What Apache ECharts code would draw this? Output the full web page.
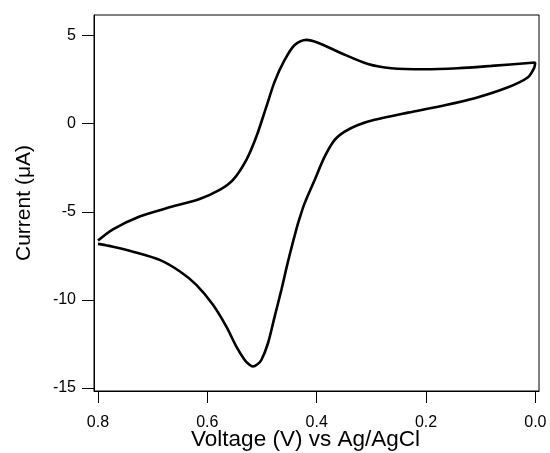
<!DOCTYPE html>
<html>
<head>
<meta charset="utf-8">
<script src="https://cdn.jsdelivr.net/npm/echarts@6/dist/echarts.min.js"></script>
<style>
html,body{margin:0;padding:0;background:#fff;}
#chart{width:550px;height:453px;}
</style>
</head>
<body>
<div id="chart"></div>
<script>
// Potential (V vs Ag/AgCl), ordered along the closed CV loop
var voltage = [
  0.800, 0.7726, 0.7360, 0.6872, 0.6500, 0.6201, 0.5897, 0.5652, 0.5469, 0.5317,
  0.5235, 0.5166, 0.5089, 0.5012, 0.4891, 0.4769, 0.4646, 0.4525, 0.4375, 0.4311,
  0.4225, 0.4037, 0.3854, 0.3671, 0.3488, 0.3245, 0.2940, 0.2330, 0.1719, 0.1110,
  0.0501, 0.0135, 0.0022,
  0.0004, 0.0805, 0.1416, 0.2025, 0.2634, 0.3062, 0.3549, 0.3977, 0.4189, 0.4403,
  0.4586, 0.4769, 0.4920, 0.5103, 0.5286, 0.5531, 0.5775, 0.6141, 0.6750, 0.7238,
  0.7726, 0.800
];
// Current (uA) at each point
var current = [
  -6.82, -6.98, -7.26, -7.73, -8.39, -9.15, -10.28, -11.52, -12.65, -13.41,
  -13.67, -13.78, -13.67, -13.41, -12.46, -10.95, -9.43, -7.83, -6.03, -5.35,
  -4.55, -3.19, -1.87, -0.92, -0.45, -0.07, 0.22, 0.63, 1.01, 1.45,
  2.07, 2.64, 3.17,
  3.47, 3.28, 3.15, 3.09, 3.15, 3.39, 4.00, 4.60, 4.76, 4.47,
  3.62, 2.39, 0.97, -0.73, -2.05, -3.19, -3.76, -4.27, -4.80, -5.27,
  -5.99, -6.63
];
var xTicks = [0, 0.2, 0.4, 0.6, 0.8];
var yTicks = [-15, -10, -5, 0, 5];

var pts = voltage.map(function (v, i) { return [v, current[i]]; });
var font = 'Liberation Sans, Arial, Helvetica, sans-serif';

var chart = echarts.init(document.getElementById('chart'), null, {renderer: 'canvas'});
chart.setOption({
  animation: false,
  backgroundColor: '#fff',
  grid: {left: 94, right: 11, top: 15, bottom: 62, show: true, borderColor: '#000', borderWidth: 1,
    backgroundColor: 'transparent', containLabel: false, outerBoundsMode: 'none'},
  xAxis: {
    type: 'value', inverse: true, min: -0.0066, max: 0.8073,
    name: 'Voltage (V) vs Ag/AgCl', nameLocation: 'middle', nameGap: 37, nameMoveOverlap: false,
    nameTextStyle: {fontFamily: font, fontSize: 22.5, color: '#000', padding: [0, 22, 0, 0]},
    axisLine: {show: true, onZero: false, lineStyle: {color: '#000', width: 1}},
    axisTick: {show: true, inside: false, length: 12, customValues: xTicks, lineStyle: {color: '#000', width: 1}},
    axisLabel: {show: true, margin: 24, customValues: xTicks, fontFamily: font, fontSize: 16, color: '#000',
      formatter: function (v) { return v.toFixed(1); }},
    splitLine: {show: false}
  },
  yAxis: {
    type: 'value', min: -15.17, max: 6.17,
    name: 'Current (\u03bcA)', nameLocation: 'middle', nameGap: 59, nameRotate: 90, nameMoveOverlap: false,
    nameTextStyle: {fontFamily: font, fontSize: 21, color: '#000'},
    axisLine: {show: true, onZero: false, lineStyle: {color: '#000', width: 1}},
    axisTick: {show: true, inside: false, length: 12, customValues: yTicks, lineStyle: {color: '#000', width: 1}},
    axisLabel: {show: true, margin: 18, customValues: yTicks, fontFamily: font, fontSize: 16, color: '#000'},
    splitLine: {show: false}
  },
  series: [{
    type: 'line',
    data: pts,
    showSymbol: false,
    smooth: 0.3,
    lineStyle: {color: '#000', width: 2.6},
    clip: true
  }]
});
</script>
</body>
</html>
